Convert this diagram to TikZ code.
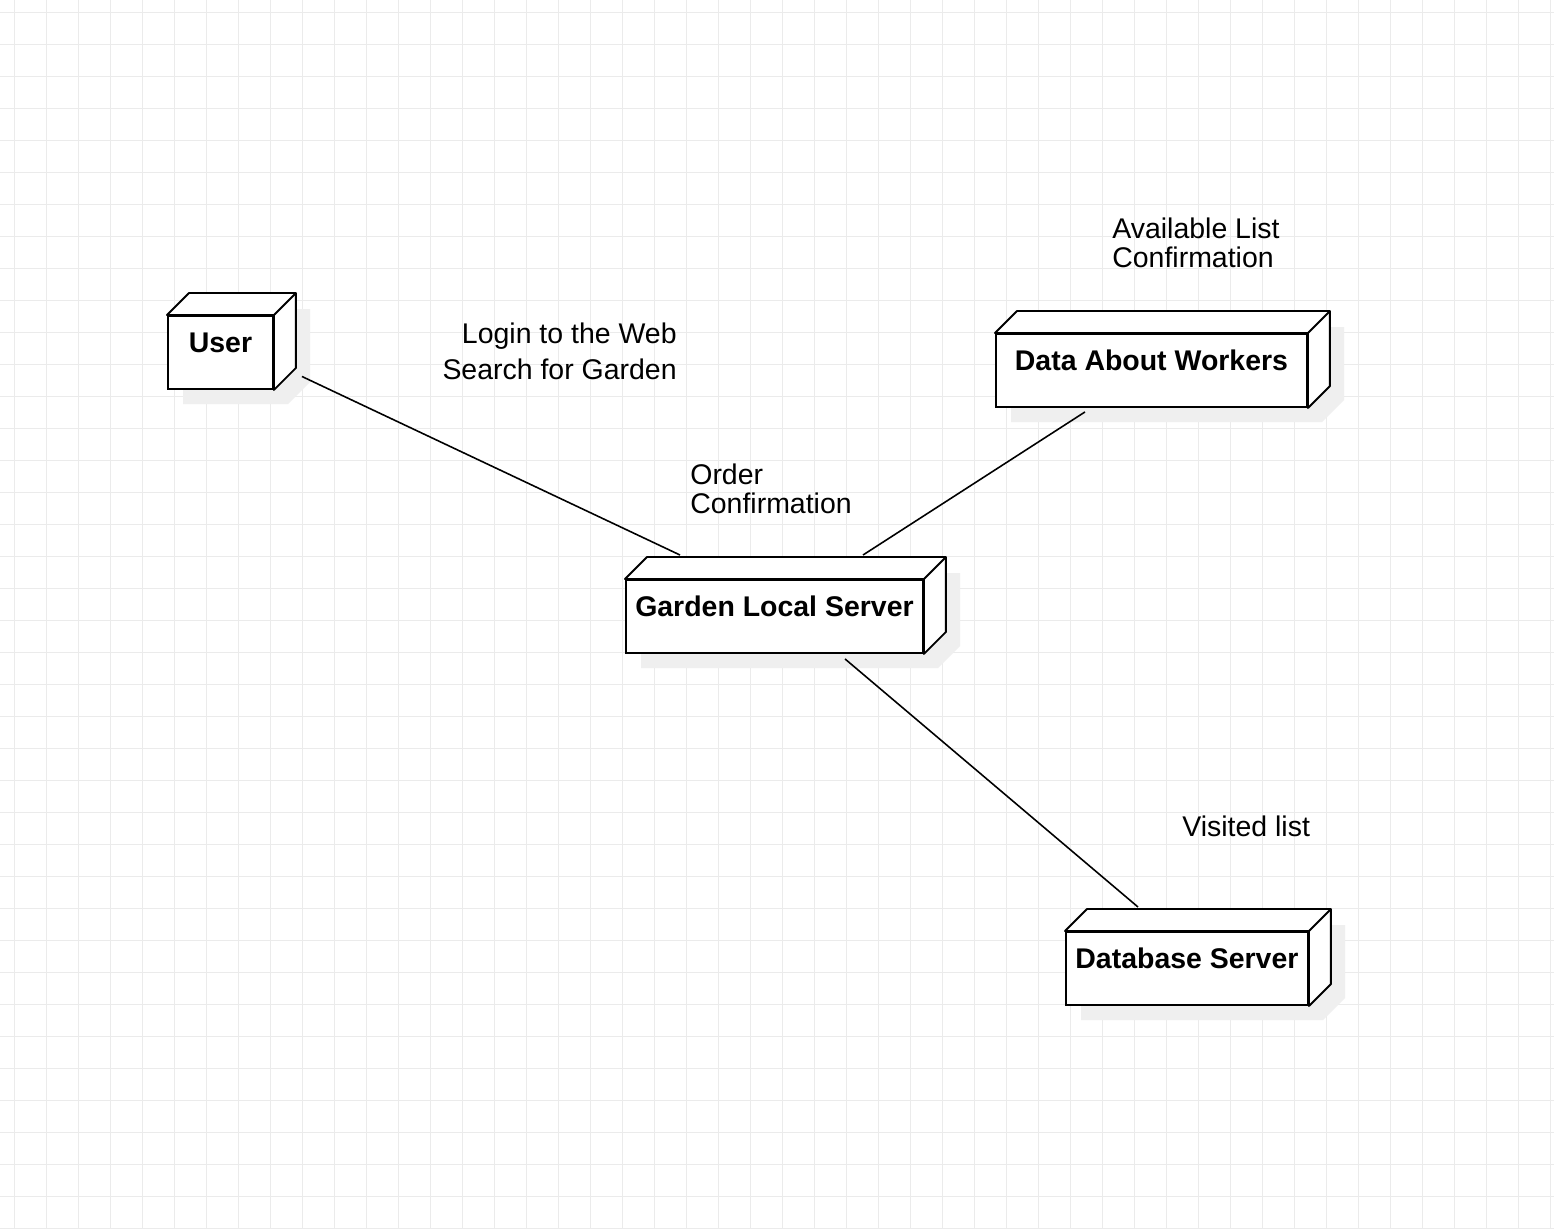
\documentclass[tikz,border=0pt]{standalone}
\usepackage{fontspec}
\setmainfont{Liberation Sans}
\usepackage{xcolor}
\definecolor{gridgray}{HTML}{EBEBEB}
\definecolor{shadowgray}{HTML}{EFEFEF}
\newcommand\devfont{\fontsize{16.2pt}{16.4pt}\selectfont}

\begin{document}
\begin{tikzpicture}[x=0.02cm,y=-0.02cm,
    gridline/.style={draw=gridgray,line width=0.5pt},
    devshadow/.style={fill=shadowgray},
    device/.style={draw,fill=white,line width=1.1pt,inner sep=0pt,anchor=north west,
        minimum height=1.46cm,text height=0.74cm,text depth=0.72cm,font=\devfont\bfseries},
    devline/.style={draw,fill=white,line width=1.1pt,line join=round},
    link/.style={line width=0.9pt},
    msg/.style={inner sep=0pt,font=\devfont}]
    \useasboundingbox (0,0) rectangle (1554,1228);
    \fill[white] (0,0) rectangle (1554,1228);
    \foreach \gx in {14,46,...,1554}
        \draw[gridline] (\gx,0) -- (\gx,1228);
    \foreach \gy in {12,44,...,1228}
        \draw[gridline] (0,\gy) -- (1554,\gy);
    \def\devices{user/167/315/105/User, garden/625/579/297/Garden Local Server, workers/995/333/311/Data About Workers, database/1065/931/242/Database Server}
    \foreach \n/\x/\y/\w/\lbl in \devices{
        \fill[devshadow] (\x+16,\y+16) -- ++(22,-22) -- ++(\w,0) -- ++(0,73) -- ++(-22,22) -- ++(-\w,0) -- cycle;
        \node[device,minimum width=\w*0.02cm] (\n) at (\x,\y) {\lbl};
        \path[devline] (\n.north west) -- ++(22,-22) -- ([shift={(22,-22)}]\n.north east)
            -- ([shift={(22,-22)}]\n.south east) -- (\n.south east) -- (\n.north east) -- cycle;
        \draw[devline] (\n.north east) -- ++(22,-22);
    }
    \draw[link] ([shift={(28,24)}]user.east) -- ([shift={(55,-24)}]garden.north west);
    \draw[link] ([shift={(90,4)}]workers.south west) -- ([shift={(238,-24)}]garden.north west);
    \draw[link] ([shift={(220,5)}]garden.south west) -- ([shift={(73,-24)}]database.north west);
    \node[msg,anchor=north east,align=right] (login) at (677,323) {Login to the Web\\[3.7pt]Search for Garden};
    \node[msg,anchor=north west,align=left] (order) at (690,464) {Order\\Confirmation};
    \node[msg,anchor=north west,align=left] (avail) at (1112,218) {Available List\\Confirmation};
    \node[msg,anchor=north west] (visited) at (1182,816) {Visited list};
\end{tikzpicture}
\end{document}
